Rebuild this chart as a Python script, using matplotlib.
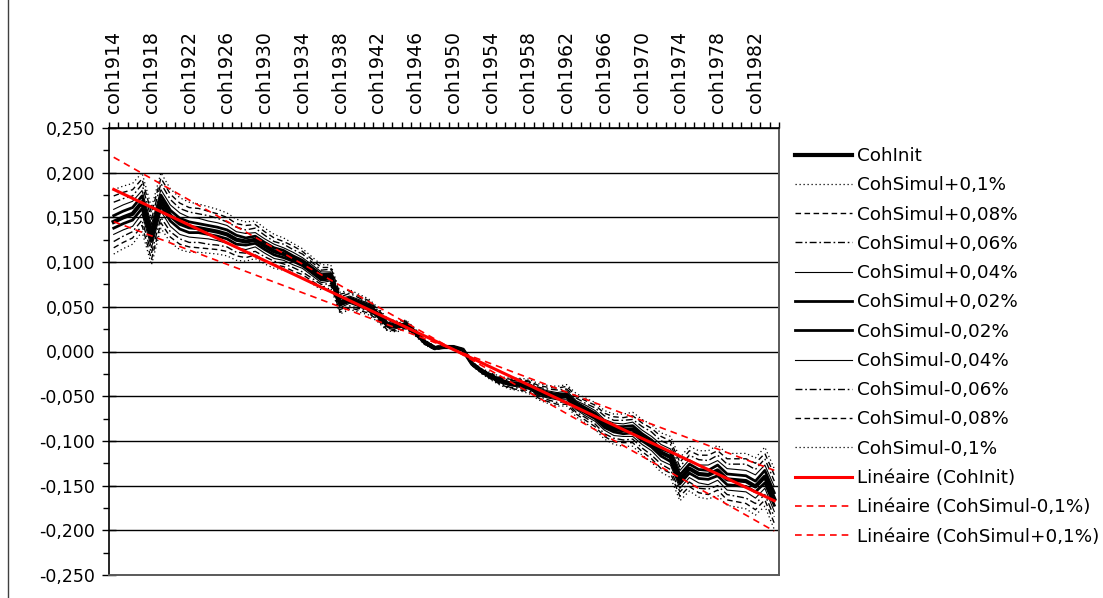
import numpy as np
import matplotlib
matplotlib.use("Agg")
import matplotlib.pyplot as plt
from matplotlib.ticker import FixedLocator, FuncFormatter, MultipleLocator
from matplotlib.lines import Line2D

cohorts = [f"coh{y}" for y in range(1914, 1985)]

coh_init = [0.145, 0.150, 0.154, 0.167, 0.129, 0.169, 0.152, 0.143, 0.139, 0.138,
            0.136, 0.134, 0.131, 0.125, 0.123, 0.125, 0.118, 0.112, 0.109, 0.104,
            0.099, 0.091, 0.083, 0.084, 0.054, 0.058, 0.054, 0.050, 0.041, 0.030,
            0.028, 0.030, 0.021, 0.010, 0.004, 0.005, 0.005, 0.002, -0.014, -0.022,
            -0.028, -0.033, -0.036, -0.037, -0.039, -0.045, -0.048, -0.050, -0.049, -0.060,
            -0.066, -0.072, -0.082, -0.087, -0.088, -0.087, -0.096, -0.103, -0.113, -0.118,
            -0.143, -0.131, -0.137, -0.138, -0.133, -0.143, -0.144, -0.145, -0.151, -0.140, -0.165]

sim_p10 = [0.109, 0.115, 0.120, 0.134, 0.097, 0.138, 0.122, 0.114, 0.111, 0.111,
           0.110, 0.109, 0.107, 0.102, 0.101, 0.104, 0.098, 0.093, 0.091, 0.087,
           0.083, 0.076, 0.069, 0.071, 0.042, 0.047, 0.044, 0.041, 0.033, 0.023,
           0.022, 0.025, 0.017, 0.007, 0.002, 0.004, 0.005, 0.003, -0.012, -0.019,
           -0.024, -0.028, -0.030, -0.030, -0.031, -0.036, -0.038, -0.039, -0.037, -0.047,
           -0.052, -0.057, -0.066, -0.070, -0.070, -0.068, -0.076, -0.082, -0.091, -0.095,
           -0.119, -0.106, -0.111, -0.111, -0.105, -0.114, -0.114, -0.114, -0.119, -0.107, -0.131]

sim_p08 = [0.116, 0.122, 0.127, 0.141, 0.103, 0.144, 0.128, 0.120, 0.117, 0.116,
           0.115, 0.114, 0.112, 0.107, 0.105, 0.108, 0.102, 0.097, 0.095, 0.090,
           0.086, 0.079, 0.072, 0.074, 0.044, 0.049, 0.046, 0.043, 0.035, 0.024,
           0.023, 0.026, 0.018, 0.008, 0.002, 0.004, 0.005, 0.003, -0.012, -0.020,
           -0.025, -0.029, -0.031, -0.031, -0.033, -0.038, -0.040, -0.041, -0.039, -0.050,
           -0.055, -0.060, -0.069, -0.073, -0.074, -0.072, -0.080, -0.086, -0.095, -0.100,
           -0.124, -0.111, -0.116, -0.116, -0.111, -0.120, -0.120, -0.120, -0.125, -0.114, -0.138]

sim_p06 = [0.123, 0.129, 0.134, 0.147, 0.110, 0.150, 0.134, 0.126, 0.122, 0.122,
           0.120, 0.119, 0.117, 0.111, 0.110, 0.112, 0.106, 0.101, 0.098, 0.094,
           0.089, 0.082, 0.075, 0.076, 0.047, 0.051, 0.048, 0.045, 0.036, 0.026,
           0.024, 0.027, 0.019, 0.008, 0.003, 0.004, 0.005, 0.003, -0.013, -0.020,
           -0.026, -0.030, -0.032, -0.033, -0.034, -0.040, -0.042, -0.043, -0.042, -0.052,
           -0.058, -0.063, -0.072, -0.077, -0.077, -0.076, -0.084, -0.090, -0.100, -0.104,
           -0.129, -0.116, -0.121, -0.122, -0.116, -0.126, -0.126, -0.126, -0.132, -0.120, -0.145]

sim_p04 = [0.131, 0.136, 0.140, 0.154, 0.116, 0.157, 0.140, 0.131, 0.128, 0.127,
           0.126, 0.124, 0.121, 0.116, 0.114, 0.117, 0.110, 0.104, 0.102, 0.097,
           0.093, 0.085, 0.077, 0.079, 0.049, 0.054, 0.050, 0.046, 0.038, 0.027,
           0.026, 0.028, 0.019, 0.009, 0.003, 0.005, 0.005, 0.002, -0.013, -0.021,
           -0.026, -0.031, -0.034, -0.034, -0.036, -0.041, -0.044, -0.046, -0.044, -0.055,
           -0.060, -0.066, -0.076, -0.080, -0.081, -0.079, -0.088, -0.095, -0.104, -0.109,
           -0.133, -0.121, -0.127, -0.127, -0.122, -0.131, -0.132, -0.133, -0.138, -0.127, -0.151]

sim_p02 = [0.138, 0.143, 0.147, 0.160, 0.123, 0.163, 0.146, 0.137, 0.133, 0.133,
           0.131, 0.129, 0.126, 0.120, 0.119, 0.121, 0.114, 0.108, 0.105, 0.101,
           0.096, 0.088, 0.080, 0.081, 0.052, 0.056, 0.052, 0.048, 0.039, 0.029,
           0.027, 0.029, 0.020, 0.009, 0.004, 0.005, 0.005, 0.002, -0.014, -0.021,
           -0.027, -0.032, -0.035, -0.036, -0.037, -0.043, -0.046, -0.048, -0.047, -0.057,
           -0.063, -0.069, -0.079, -0.084, -0.084, -0.083, -0.092, -0.099, -0.109, -0.113,
           -0.138, -0.126, -0.132, -0.133, -0.127, -0.137, -0.138, -0.139, -0.145, -0.133, -0.158]

sim_m02 = [0.152, 0.157, 0.161, 0.174, 0.135, 0.175, 0.158, 0.149, 0.145, 0.143,
           0.141, 0.139, 0.136, 0.130, 0.127, 0.129, 0.122, 0.116, 0.113, 0.107,
           0.102, 0.094, 0.086, 0.087, 0.056, 0.060, 0.056, 0.052, 0.043, 0.031,
           0.029, 0.031, 0.022, 0.011, 0.004, 0.005, 0.005, 0.002, -0.014, -0.023,
           -0.029, -0.034, -0.037, -0.038, -0.041, -0.047, -0.050, -0.052, -0.051, -0.063,
           -0.069, -0.075, -0.085, -0.090, -0.092, -0.091, -0.100, -0.107, -0.117, -0.123,
           -0.148, -0.136, -0.142, -0.143, -0.139, -0.149, -0.150, -0.151, -0.157, -0.147, -0.172]

sim_m04 = [0.159, 0.164, 0.168, 0.180, 0.142, 0.181, 0.164, 0.155, 0.150, 0.149,
           0.146, 0.144, 0.141, 0.134, 0.132, 0.133, 0.126, 0.120, 0.116, 0.111,
           0.105, 0.097, 0.089, 0.089, 0.059, 0.062, 0.058, 0.054, 0.044, 0.033,
           0.030, 0.032, 0.023, 0.011, 0.005, 0.005, 0.005, 0.002, -0.015, -0.023,
           -0.030, -0.035, -0.038, -0.040, -0.042, -0.049, -0.052, -0.054, -0.054, -0.065,
           -0.072, -0.078, -0.088, -0.094, -0.095, -0.095, -0.104, -0.111, -0.122, -0.127,
           -0.153, -0.141, -0.147, -0.149, -0.144, -0.155, -0.156, -0.157, -0.164, -0.153, -0.179]

sim_m06 = [0.167, 0.171, 0.174, 0.187, 0.148, 0.188, 0.170, 0.160, 0.156, 0.154,
           0.152, 0.149, 0.145, 0.139, 0.136, 0.138, 0.130, 0.123, 0.120, 0.114,
           0.109, 0.100, 0.091, 0.092, 0.061, 0.065, 0.060, 0.055, 0.046, 0.034,
           0.032, 0.033, 0.023, 0.012, 0.005, 0.006, 0.005, 0.001, -0.015, -0.024,
           -0.030, -0.036, -0.040, -0.041, -0.044, -0.050, -0.054, -0.057, -0.056, -0.068,
           -0.074, -0.081, -0.092, -0.097, -0.099, -0.098, -0.108, -0.116, -0.126, -0.132,
           -0.157, -0.146, -0.153, -0.154, -0.150, -0.160, -0.162, -0.164, -0.170, -0.160, -0.185]

sim_m08 = [0.174, 0.178, 0.181, 0.193, 0.155, 0.194, 0.176, 0.166, 0.161, 0.160,
           0.157, 0.154, 0.150, 0.143, 0.141, 0.142, 0.134, 0.127, 0.123, 0.118,
           0.112, 0.103, 0.094, 0.094, 0.064, 0.067, 0.062, 0.057, 0.047, 0.036,
           0.033, 0.034, 0.024, 0.012, 0.006, 0.006, 0.005, 0.001, -0.016, -0.024,
           -0.031, -0.037, -0.041, -0.043, -0.045, -0.052, -0.056, -0.059, -0.059, -0.070,
           -0.077, -0.084, -0.095, -0.101, -0.102, -0.102, -0.112, -0.120, -0.131, -0.136,
           -0.162, -0.151, -0.158, -0.160, -0.155, -0.166, -0.168, -0.170, -0.177, -0.166, -0.192]

sim_m10 = [0.181, 0.185, 0.188, 0.200, 0.161, 0.200, 0.182, 0.172, 0.167, 0.165,
           0.162, 0.159, 0.155, 0.148, 0.145, 0.146, 0.138, 0.131, 0.127, 0.121,
           0.115, 0.106, 0.097, 0.097, 0.066, 0.069, 0.064, 0.059, 0.049, 0.037,
           0.034, 0.035, 0.025, 0.013, 0.006, 0.006, 0.005, 0.001, -0.016, -0.025,
           -0.032, -0.038, -0.042, -0.044, -0.047, -0.054, -0.058, -0.061, -0.061, -0.073,
           -0.080, -0.087, -0.098, -0.104, -0.106, -0.106, -0.116, -0.124, -0.135, -0.141,
           -0.167, -0.156, -0.163, -0.165, -0.161, -0.172, -0.174, -0.176, -0.183, -0.173, -0.199]

FS_Y = 12.5
FS_X = 13.6
FS_LEG = 13.2
plt.rcParams['font.family'] = ['DejaVu Sans']

W, H = 1103, 598
fig = plt.figure(figsize=(W / 100, H / 100), dpi=100)
ax = fig.add_axes([109 / W, 1 - 575 / H, (779 - 109) / W, (575 - 128) / H])

x = np.arange(len(cohorts))

DOT = (0, (1, 2.2))
DASH = (0, (4, 2.5))
DASHDOT = (0, (5, 2, 1.2, 2))

ax.plot(x, coh_init, color='black', lw=3.0, label='CohInit')
sims = [
    (sim_p10, 'CohSimul+0,1%', DOT, 0.9),
    (sim_p08, 'CohSimul+0,08%', DASH, 1.0),
    (sim_p06, 'CohSimul+0,06%', DASHDOT, 1.0),
    (sim_p04, 'CohSimul+0,04%', '-', 0.8),
    (sim_p02, 'CohSimul+0,02%', '-', 2.0),
    (sim_m02, 'CohSimul-0,02%', '-', 2.0),
    (sim_m04, 'CohSimul-0,04%', '-', 0.8),
    (sim_m06, 'CohSimul-0,06%', DASHDOT, 1.0),
    (sim_m08, 'CohSimul-0,08%', DASH, 1.0),
    (sim_m10, 'CohSimul-0,1%', DOT, 0.9),
]
for vals, lab, ls, lw in sims:
    ax.plot(x, vals, color='black', lw=lw, linestyle=ls, label=lab)

trends = [
    (coh_init, 'Linéaire (CohInit)', '-', 2.2),
    (sim_m10, 'Linéaire (CohSimul-0,1%)', (0, (4, 3)), 1.2),
    (sim_p10, 'Linéaire (CohSimul+0,1%)', (0, (4, 3)), 1.2),
]
for vals, lab, ls, lw in trends:
    coef = np.polyfit(x, vals, 1)
    ax.plot(x, np.polyval(coef, x), color='#ff0000', lw=lw, linestyle=ls, label=lab)

# y axis
ax.set_ylim(-0.25, 0.25)
ax.yaxis.set_major_locator(MultipleLocator(0.05))
ax.yaxis.set_minor_locator(MultipleLocator(0.025))


def yfmt(v, _):
    if abs(v) < 1e-9:
        v = 0.0
    return f"{v:.3f}".replace('.', ',')


ax.yaxis.set_major_formatter(FuncFormatter(yfmt))
ax.tick_params(axis='y', which='major', direction='inout', length=10, width=1,
               pad=5, labelsize=FS_Y, colors='black')
ax.tick_params(axis='y', which='minor', direction='out', length=4, width=1)
ax.grid(axis='y', which='major', color='black', lw=1.0)
ax.set_axisbelow(True)

# x axis (categories on top)
ax.set_xlim(-0.5, len(cohorts) - 0.5)
ax.xaxis.tick_top()
ax.xaxis.set_major_locator(FixedLocator(x[::4]))
ax.set_xticklabels(cohorts[::4])
ax.xaxis.set_minor_locator(FixedLocator(np.arange(-0.5, len(cohorts), 1)))
ax.tick_params(axis='x', which='major', length=0, pad=11, labelsize=FS_X,
               labelrotation=90)
ax.tick_params(axis='x', which='minor', direction='out', length=4, width=1,
               top=True, bottom=False)

for s in ['top', 'left']:
    ax.spines[s].set_color('black')
    ax.spines[s].set_linewidth(1.2)
for s in ['right', 'bottom']:
    ax.spines[s].set_color('#5a5a5a')
    ax.spines[s].set_linewidth(1.4)

handles, labels = ax.get_legend_handles_labels()
fig.legend(handles, labels, loc='upper left',
           bbox_to_anchor=(795 / W, 1 - 147 / H), frameon=False,
           fontsize=FS_LEG, borderpad=0, borderaxespad=0, handlelength=3.1,
           handletextpad=0.27, labelspacing=0.615)

fig.add_artist(Line2D([8 / W, 8 / W], [0, 1], transform=fig.transFigure,
                      color='#404040', lw=1.0))

fig.savefig('out.png', dpi=100)
